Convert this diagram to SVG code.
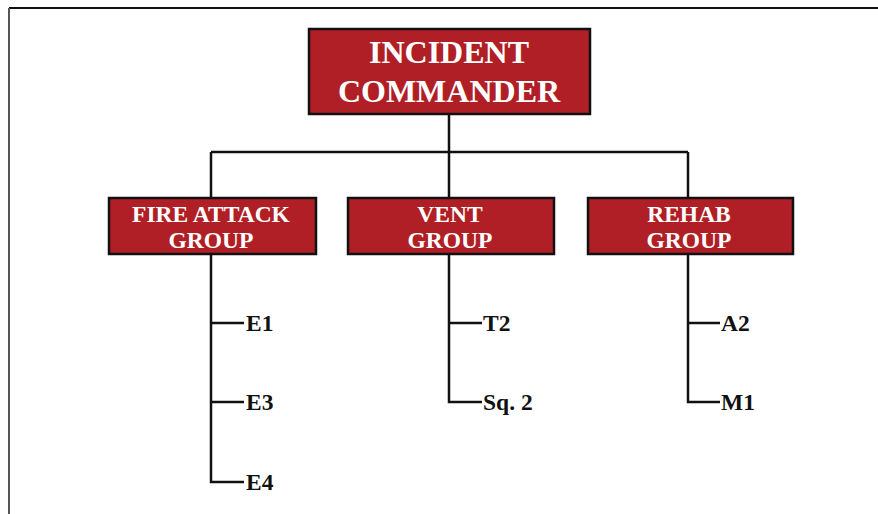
<svg xmlns="http://www.w3.org/2000/svg" width="878" height="514" viewBox="0 0 878 514">
<style>
.box{fill:#B01F26;stroke:#111;stroke-width:2.5}
.t{font-family:"Liberation Serif","Times New Roman",serif;fill:#fff;text-anchor:middle;font-weight:bold}
.big{font-size:32px}
.mid{font-size:23.5px}
.lbl{font-family:"Liberation Serif","Times New Roman",serif;font-size:23.5px;font-weight:bold;fill:#111}
.ln{stroke:#111;stroke-width:2.5;fill:none}
</style>
<rect width="878" height="514" fill="#fff"/>
<g id="page">
<line x1="9" y1="8" x2="878" y2="8" stroke="#111" stroke-width="2"/>
<line x1="9" y1="8" x2="9" y2="514" stroke="#555" stroke-width="2"/>
</g>
<g id="connectors">
<path class="ln" d="M449 114V152M211 152H688M211 152V197M449 152V197M688 152V197"/>
<path class="ln" d="M211 254V482H244M211 323H244M211 402H244"/>
<path class="ln" d="M449 254V402H482M449 323H482"/>
<path class="ln" d="M688 254V402H720M688 323H720"/>
</g>
<g id="ic">
<rect class="box" x="309" y="29" width="281" height="85"/>
<text class="t big" x="449" y="63">INCIDENT</text>
<text class="t big" x="449" y="102">COMMANDER</text>
</g>
<g id="fire">
<rect class="box" x="109" y="198" width="207" height="56"/>
<text class="t mid" x="211" y="222">FIRE ATTACK</text>
<text class="t mid" x="211" y="248">GROUP</text>
</g>
<g id="vent">
<rect class="box" x="348" y="198" width="206" height="56"/>
<text class="t mid" x="450" y="222">VENT</text>
<text class="t mid" x="450" y="248">GROUP</text>
</g>
<g id="rehab">
<rect class="box" x="588" y="198" width="205" height="56"/>
<text class="t mid" x="689" y="222">REHAB</text>
<text class="t mid" x="689" y="248">GROUP</text>
</g>
<g id="e1"><text class="lbl" x="246" y="331">E1</text></g>
<g id="e3"><text class="lbl" x="246" y="410">E3</text></g>
<g id="e4"><text class="lbl" x="246" y="490">E4</text></g>
<g id="t2"><text class="lbl" x="483" y="331">T2</text></g>
<g id="sq2"><text class="lbl" x="483" y="410">Sq. 2</text></g>
<g id="a2"><text class="lbl" x="721" y="331">A2</text></g>
<g id="m1"><text class="lbl" x="721" y="410">M1</text></g>
</svg>
